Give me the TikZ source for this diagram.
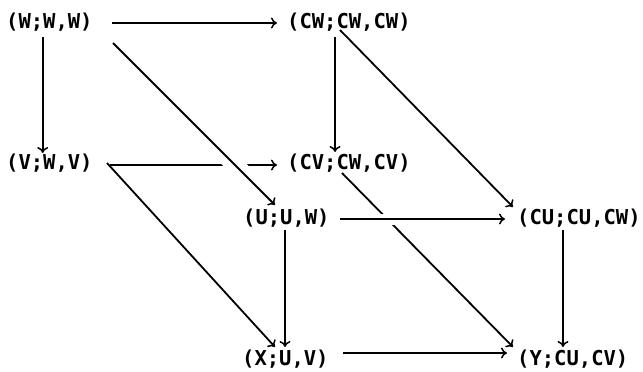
\documentclass[tikz,border=0pt]{standalone}
\usepackage{fontspec}
\newfontfamily\lblfont{DejaVu Sans Mono}
\usetikzlibrary{calc,arrows.meta}
\tikzset{
  lbl/.style={anchor=base west, inner sep=0pt, font=\lblfont\bfseries\fontsize{20.5}{24}\selectfont},
  arr/.style={line width=1.8pt, -{To[length=6pt,width=11pt,line width=1.5pt]}},
  halo/.style={draw=white, line width=#1}
}
\begin{document}
\begin{tikzpicture}[x=1pt,y=-1pt]
\useasboundingbox (0,0) rectangle (643,372);
\node[lbl] (w)  at (6,28)   {(W;W,W)};
\node[lbl] (cw) at (287,28) {(CW;CW,CW)};
\node[lbl] (v)  at (6,169)  {(V;W,V)};
\node[lbl] (cv) at (287,169) {(CV;CW,CV)};
\node[lbl] (u)  at (243,224) {(U;U,W)};
\node[lbl] (cu) at (517,224) {(CU;CU,CW)};
\node[lbl] (x)  at (242,365) {(X;U,V)};
\node[lbl] (y)  at (517,365) {(Y;CU,CV)};
% endpoints
\coordinate (wu1) at ($(w.base west)+(107,15)$);
\coordinate (wu2) at ($(u.base west)+(32,-19)$);
\coordinate (ucu1) at ($(u.base west)+(97,-5)$);
\coordinate (ucu2) at ($(cu.base west)+(-12,-5)$);
% under arrows
\draw[arr] ($(v.base west)+(104,-4)$) -- ($(cv.base west)+(-10,-4)$);
\draw[arr] ($(cv.base west)+(55,4)$) -- ($(y.base west)+(-4,-18)$);
% halos
\draw[halo=18pt] ($(wu1)!0.68!(wu2)$) -- ($(wu1)!0.84!(wu2)$);
\draw[halo=11pt] ($(ucu1)!0.2!(ucu2)$) -- ($(ucu1)!0.37!(ucu2)$);
% over and other arrows
\draw[arr] (wu1) -- (wu2);
\draw[arr] (ucu1) -- (ucu2);
\draw[arr] ($(w.base west)+(106,-5)$) -- ($(cw.base west)+(-10,-5)$);
\draw[arr] ($(w.base west)+(36.7,9)$) -- ($(v.base west)+(36.7,-16)$);
\draw[arr] ($(v.base west)+(101,-6)$) -- ($(x.base west)+(33,-18)$);
\draw[arr] ($(cw.base west)+(48,9)$) -- ($(cv.base west)+(48,-17)$);
\draw[arr] ($(cw.base west)+(53,2)$) -- ($(cu.base west)+(-4,-17)$);
\draw[arr] ($(u.base west)+(42,6)$) -- ($(x.base west)+(43,-18)$);
\draw[arr] ($(cu.base west)+(46,6)$) -- ($(y.base west)+(46,-18)$);
\draw[arr] ($(x.base west)+(101,-12)$) -- ($(y.base west)+(-10,-12)$);
\end{tikzpicture}
\end{document}
